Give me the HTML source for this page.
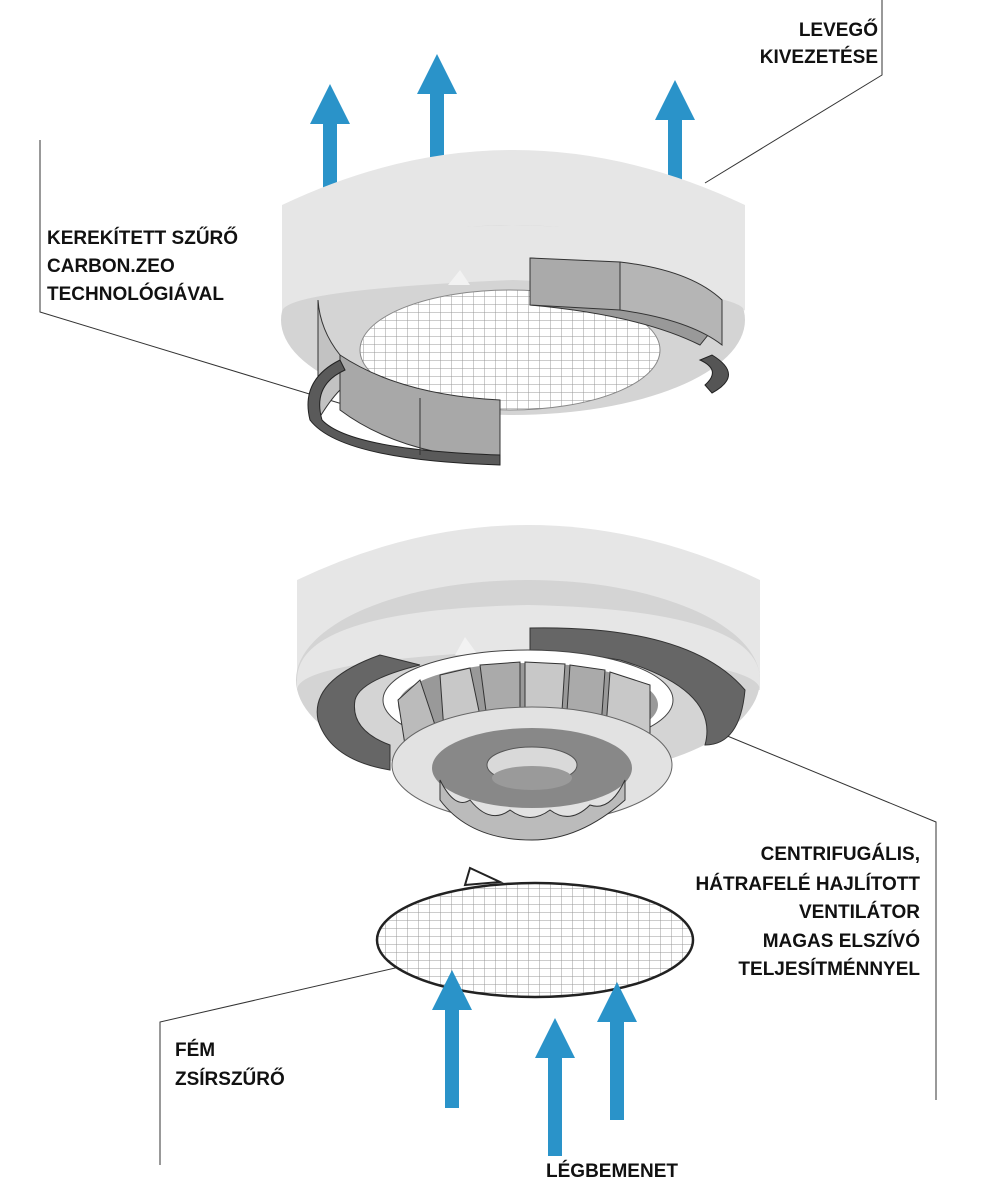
<!DOCTYPE html>
<html><head><meta charset="utf-8"><style>
html,body{margin:0;padding:0;background:#fff;width:983px;height:1200px;overflow:hidden}
svg{display:block}
text{font-family:"Liberation Sans",sans-serif;font-weight:bold;font-size:19px;fill:#111}
</style></head><body>
<svg width="983" height="1200" viewBox="0 0 983 1200" xmlns="http://www.w3.org/2000/svg">
<defs>
<pattern id="grid" width="11" height="8" patternUnits="userSpaceOnUse">
<rect width="11" height="8" fill="#fff"/>
<path d="M0 0H11M0 0V8" stroke="#999" stroke-width="1"/>
</pattern>
<g id="arrow"><rect x="-7" y="38" width="14" height="100" fill="#2a93c9"/><polygon points="0,0 -20,40 20,40" fill="#2a93c9"/></g>
</defs>

<!-- leader lines -->
<g stroke="#333" stroke-width="1" fill="none">
<polyline points="882,0 882,75 705,183"/>
<polyline points="40,140 40,312 362,410"/>
<polyline points="640,700 936,822 936,1100"/>
<polyline points="430,960 160,1022 160,1165"/>
</g>

<!-- top arrows -->
<use href="#arrow" x="330" y="84"/>
<use href="#arrow" x="437" y="54"/>
<use href="#arrow" x="675" y="80"/>

<!-- TOP UNIT -->
<path d="M282 205 Q513 95 745 205 L745 310 L282 310 Z" fill="#e6e6e6"/>
<ellipse cx="513" cy="320" rx="232" ry="95" fill="#d4d4d4"/>
<path d="M282 300 Q282 230 513 225 Q745 230 745 300 L745 312 Q745 290 513 280 Q282 290 282 312Z" fill="#e6e6e6"/>
<ellipse cx="510" cy="350" rx="150" ry="60" fill="url(#grid)" stroke="#888"/>
<polygon points="448,285 460,270 470,285" fill="#f2f2f2"/>
<!-- top right curved blades -->
<path d="M530 258 L530 305 Q640 315 700 345 L712 330 Q700 300 690 285 Q620 265 530 258Z" fill="#999" stroke="#333"/>
<path d="M530 258 L620 262 L620 310 L530 305Z" fill="#aaa" stroke="#333"/>
<path d="M620 262 Q690 270 722 300 L722 345 Q690 320 620 310Z" fill="#b5b5b5" stroke="#333"/>
<path d="M712 355 Q745 375 712 393 L705 385 Q722 370 700 360Z" fill="#555" stroke="#222"/>
<!-- left bottom blades -->
<path d="M318 300 L318 420 Q330 400 340 390 L340 355 Q320 330 318 300Z" fill="#c2c2c2" stroke="#333"/>
<path d="M340 355 Q400 395 500 400 L500 460 Q400 455 340 410Z" fill="#a8a8a8" stroke="#333"/>
<path d="M340 360 Q300 380 310 420 Q340 460 500 465 L500 455 Q350 450 322 420 Q312 385 345 370Z" fill="#5a5a5a" stroke="#222"/>
<line x1="420" y1="398" x2="420" y2="455" stroke="#333"/>

<!-- MIDDLE UNIT -->
<path d="M297 580 Q528 470 760 580 L760 690 L297 690 Z" fill="#e6e6e6"/>
<ellipse cx="528" cy="680" rx="232" ry="100" fill="#d4d4d4"/>
<path d="M297 680 Q297 610 528 605 Q760 610 760 680 L760 690 Q760 660 528 650 Q297 660 297 690Z" fill="#e6e6e6"/>
<path d="M530 628 Q690 625 745 690 Q740 745 705 745 Q720 690 620 660 Q560 650 530 650 Z" fill="#666" stroke="#333"/>
<path d="M380 655 Q310 680 318 720 Q330 760 390 770 L390 745 Q350 730 355 700 Q360 680 420 665Z" fill="#666" stroke="#333"/>
<polygon points="455,655 465,637 478,655" fill="#f2f2f2"/>
<ellipse cx="528" cy="700" rx="145" ry="50" fill="#fff" stroke="#444"/>
<ellipse cx="528" cy="705" rx="130" ry="42" fill="#999"/>
<g stroke="#333" fill="#bbb">
<path d="M398 700 L420 680 L440 740 L405 745Z"/>
<path d="M440 675 L470 668 L485 740 L445 745Z" fill="#c8c8c8"/>
<path d="M480 665 L520 662 L520 740 L490 742Z" fill="#aaa"/>
<path d="M525 662 L565 664 L560 742 L525 742Z" fill="#c8c8c8"/>
<path d="M570 665 L605 670 L600 742 L565 742Z" fill="#aaa"/>
<path d="M610 672 L650 685 L650 740 L605 742Z" fill="#c8c8c8"/>
</g>
<ellipse cx="532" cy="765" rx="140" ry="58" fill="#e2e2e2" stroke="#666"/>
<ellipse cx="532" cy="768" rx="100" ry="40" fill="#888"/>
<path d="M440 780 Q455 810 470 800 Q490 825 510 810 Q530 825 550 810 Q570 825 590 805 Q610 812 625 780 L625 800 Q580 840 532 840 Q470 840 440 800Z" fill="#bbb" stroke="#333"/>
<ellipse cx="532" cy="765" rx="45" ry="18" fill="#d9d9d9" stroke="#555"/>
<ellipse cx="532" cy="778" rx="40" ry="12" fill="#9a9a9a"/>

<!-- mesh disc -->
<polygon points="465,885 470,868 500,882" fill="#fff" stroke="#222" stroke-width="2"/>
<ellipse cx="535" cy="940" rx="158" ry="57" fill="url(#grid)" stroke="#222" stroke-width="2.5"/>

<!-- bottom arrows -->
<use href="#arrow" x="452" y="970"/>
<use href="#arrow" x="555" y="1018"/>
<use href="#arrow" x="617" y="982"/>

<!-- labels -->
<text x="878" y="36" text-anchor="end">LEVEGŐ</text>
<text x="878" y="63" text-anchor="end">KIVEZETÉSE</text>
<text x="47" y="244">KEREKÍTETT SZŰRŐ</text>
<text x="47" y="272">CARBON.ZEO</text>
<text x="47" y="300">TECHNOLÓGIÁVAL</text>
<text x="920" y="860" text-anchor="end">CENTRIFUGÁLIS,</text>
<text x="920" y="890" text-anchor="end">HÁTRAFELÉ HAJLÍTOTT</text>
<text x="920" y="918" text-anchor="end">VENTILÁTOR</text>
<text x="920" y="947" text-anchor="end">MAGAS ELSZÍVÓ</text>
<text x="920" y="975" text-anchor="end">TELJESÍTMÉNNYEL</text>
<text x="175" y="1056">FÉM</text>
<text x="175" y="1085">ZSÍRSZŰRŐ</text>
<text x="612" y="1177" text-anchor="middle">LÉGBEMENET</text>
</svg>
</body></html>
